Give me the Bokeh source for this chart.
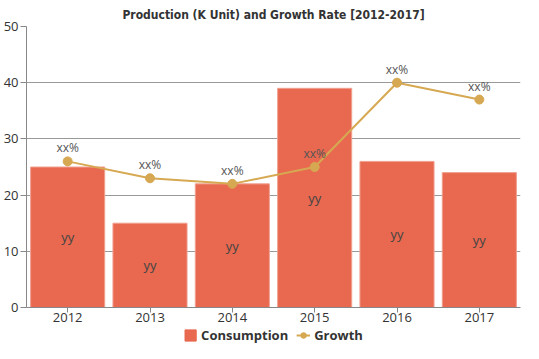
from bokeh.plotting import figure
from bokeh.layouts import column
from bokeh.models import ColumnDataSource, Legend, LegendItem, FixedTicker, Range1d
from bokeh.core.properties import value
from bokeh.embed import file_html
from bokeh.resources import INLINE

years = ["2012", "2013", "2014", "2015", "2016", "2017"]
consumption = [25, 15, 22, 39, 26, 24]
growth = [26, 23, 22, 25, 40, 37]
growth_labels = ["xx%"] * 6
bar_labels = ["yy"] * 6

BAR_COLOR = "#e8694f"
LINE_COLOR = "#d6a852"

src = ColumnDataSource(dict(
    x=years, c=consumption, g=growth,
    cmid=[v / 2 for v in consumption],
    gl=growth_labels, bl=bar_labels,
))

p = figure(x_range=years, y_range=Range1d(0, 50), width=523, height=327,
           output_backend="svg", toolbar_location=None,
           title="Production (K Unit) and Growth Rate [2012-2017]",
           min_border_left=20, min_border_right=3, min_border_top=18, min_border_bottom=20)

p.title.align = "center"
p.title.text_font = "DejaVu Sans Condensed"
p.title.text_font_style = "bold"
p.title.text_font_size = "12px"
p.title.text_color = "#333333"
p.title.offset = 0

bars = p.vbar(x="x", top="c", width=0.9, source=src, fill_color=BAR_COLOR,
              line_color="#f0a090", line_width=1)
line = p.line(x="x", y="g", source=src, line_color=LINE_COLOR, line_width=2)
pts = p.scatter(x="x", y="g", source=src, size=9, fill_color=LINE_COLOR, line_color=LINE_COLOR)

p.text(x="x", y="g", text="gl", source=src, text_align="center", text_baseline="bottom",
       y_offset=-5, text_font_size="12px", text_color="#555555", text_font=value("Open Sans"))
p.text(x="x", y="cmid", text="bl", source=src, text_align="center", text_baseline="middle",
       text_font_size="13px", text_color="#444444", text_font=value("Open Sans"))

p.yaxis.ticker = FixedTicker(ticks=[0, 10, 20, 30, 40, 50])
p.yaxis.minor_tick_line_color = None
p.yaxis.major_tick_in = 0
p.yaxis.major_tick_out = 6
p.xaxis.major_tick_in = 0
p.xaxis.major_tick_out = 5
for ax in (p.xaxis, p.yaxis):
    ax.axis_line_color = "#888888"
    ax.major_tick_line_color = "#888888"
    ax.major_label_text_font_size = "13px"
    ax.major_label_text_color = "#333333"
    ax.major_label_text_font = "Open Sans"
p.yaxis.major_label_standoff = 2
p.xaxis.major_label_standoff = 0
p.xaxis.axis_label_standoff = 0

p.xgrid.grid_line_color = None
p.ygrid.grid_line_color = "#999999"
p.outline_line_color = None

# legend strip: off-screen copies of the series so legend glyphs render
lg = figure(width=523, height=16, output_backend="svg", toolbar_location=None,
            x_range=years, y_range=Range1d(1000, 1001),
            min_border_left=0, min_border_right=0, min_border_top=0, min_border_bottom=0)
lg.axis.visible = False
lg.grid.visible = False
lg.outline_line_color = None
lb = lg.vbar(x=years, top=consumption, width=0.9, fill_color=BAR_COLOR, line_color=BAR_COLOR)
ll = lg.line(x=years, y=growth, line_color=LINE_COLOR, line_width=2)
lp = lg.scatter(x=years, y=growth, size=7, fill_color=LINE_COLOR, line_color=LINE_COLOR)

legend = Legend(items=[
    LegendItem(label="Consumption", renderers=[lb]),
    LegendItem(label="Growth", renderers=[ll, lp]),
], orientation="horizontal", location="center")
legend.label_text_font = "Open Sans"
legend.label_text_font_style = "bold"
legend.label_text_font_size = "13px"
legend.label_text_color = "#333333"
legend.border_line_color = None
legend.background_fill_alpha = 0
legend.glyph_width = 14
legend.glyph_height = 14
legend.label_height = 14
legend.spacing = 8
legend.label_standoff = 4
legend.padding = 0
legend.margin = 0
lg.add_layout(legend, "center")

layout = column(p, lg, spacing=0)
open("out.html", "w").write(file_html(layout, INLINE))
